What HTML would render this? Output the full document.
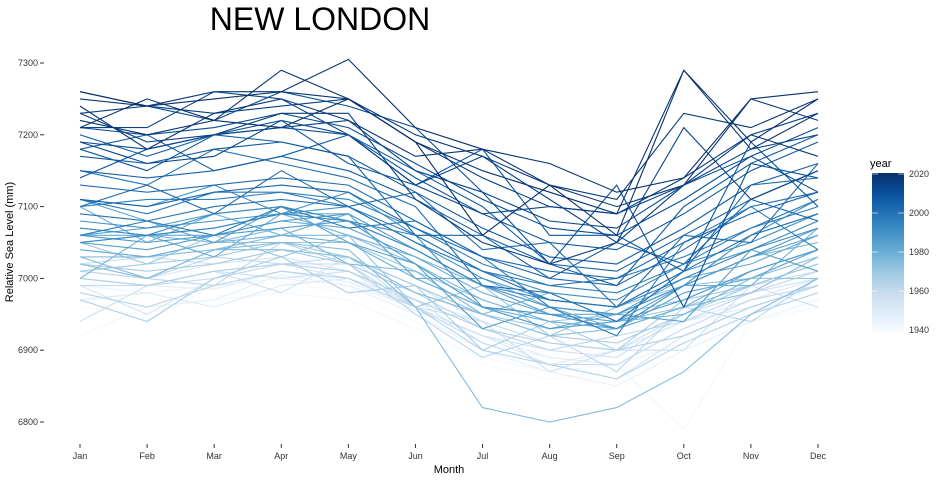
<!DOCTYPE html>
<html><head><meta charset="utf-8"><style>
body{margin:0;background:#fff;font-family:"Liberation Sans",sans-serif}
svg text{font-family:"Liberation Sans",sans-serif}
</style></head><body>
<svg id="chart" width="940" height="480">
<defs><linearGradient id="cb" x1="0" y1="1" x2="0" y2="0">
<stop offset="0" stop-color="#f7fbff"/><stop offset="0.125" stop-color="#deebf7"/><stop offset="0.25" stop-color="#c6dbef"/><stop offset="0.375" stop-color="#9ecae1"/><stop offset="0.5" stop-color="#6baed6"/><stop offset="0.625" stop-color="#4292c6"/><stop offset="0.75" stop-color="#2171b5"/><stop offset="0.875" stop-color="#08519c"/><stop offset="1" stop-color="#08306b"/></linearGradient></defs>
<text x="320" y="30" font-size="32" text-anchor="middle" fill="#000">NEW LONDON</text>
<g id="yaxis"></g>
<g id="xaxis"></g>
<g id="lines"></g>
<text transform="translate(13,242) rotate(-90)" font-size="11" text-anchor="middle">Relative Sea Level (mm)</text>
<text x="449" y="473" font-size="11" text-anchor="middle">Month</text>
<g>
<text x="870" y="167" font-size="11">year</text>
<rect x="872" y="173" width="32" height="159" fill="url(#cb)"/>
<g id="cbt"></g>
</g>
</svg>
<script>
const months=["Jan","Feb","Mar","Apr","May","Jun","Jul","Aug","Sep","Oct","Nov","Dec"];
const yTicks=[6800,6900,7000,7100,7200,7300];
const legendTicks=[1940,1960,1980,2000,2020];
const years=[1938,1940,1942,1944,1946,1948,1950,1952,1954,1956,1957,1958,1960,1962,1963,1964,1966,1967,1968,1970,1971,1972,1974,1975,1976,1977,1978,1979,1980,1981,1982,1984,1985,1986,1988,1990,1991,1992,1994,1996,1997,1998,2000,2001,2002,2003,2004,2005,2006,2007,2008,2009,2010,2011,2012,2013,2014,2015,2016,2017,2018,2019,2020,2021,2022];
const values=[
[6960,6950,6975,6985,6990,6950,6900,6880,6890,6930,6960,6970],
[6970,6940,6990,6995,6980,6940,6880,6860,6870,6920,6950,6980],
[6920,6960,6970,6980,6970,6930,6890,6870,6880,6790,6940,6960],
[6990,6980,6990,7000,6990,6960,6910,6890,6880,6910,6950,6990],
[6980,6960,6970,7005,6990,6950,6900,6870,6850,6900,6940,6970],
[7000,6990,6985,7010,6995,6960,6920,6890,6880,6930,6970,6990],
[6970,6980,6960,6990,7000,6955,6920,6880,6900,6940,6960,6990],
[7010,7000,7020,7030,7010,6970,6940,6910,6900,6940,6970,7000],
[6990,6950,7000,7020,7000,6970,6910,6880,6860,6920,6960,6990],
[7000,6990,7010,7000,7010,6960,6920,6900,6890,6950,6980,7000],
[6940,6990,7010,6980,7030,6960,6940,6870,6900,6900,6990,6960],
[7020,7030,7020,7040,7030,6990,6940,6910,6900,6950,6990,7010],
[6990,6990,7000,7020,7020,6960,6910,6880,6880,6930,6970,6990],
[7010,7000,7030,7020,7030,6980,6930,6900,6920,6940,6980,7010],
[7020,7000,6990,7050,7020,6950,6890,6920,6870,6960,6940,7000],
[6980,6960,6990,7010,7000,6960,6900,6880,6860,6910,6950,6980],
[7000,6990,7010,7020,7010,6970,6930,6910,6900,6920,6960,6990],
[6970,6940,7000,7030,6980,6990,6900,6940,6900,6970,6990,7020],
[7020,7010,7020,7040,7020,6980,6950,6920,6910,6950,6990,7020],
[7010,7020,7030,7050,7030,6990,6950,6930,6940,6960,6990,7020],
[7050,7020,7060,7030,7060,6960,6990,6920,6960,6990,7000,7000],
[7040,7030,7050,7050,7050,7010,6970,6940,6950,6970,7010,7040],
[7020,7000,7040,7040,7030,6980,6950,6920,6930,6960,6980,7030],
[7030,7000,7040,7050,7040,6960,6820,6800,6820,6870,6950,7000],
[7030,7030,7040,7060,7060,7020,6970,6940,6930,6980,7000,7030],
[7000,7060,7050,7070,7020,7010,6950,6980,6940,6950,7000,7040],
[7070,7060,7070,7090,7060,7030,6990,6960,6950,6990,7030,7050],
[7100,7050,7090,7060,7090,7000,6960,6930,6950,6990,6990,7070],
[7040,7030,7050,7060,7050,7000,6960,6940,6930,6960,7010,7040],
[7060,7060,7030,7090,7090,7000,7000,6960,6930,6980,7000,7040],
[7050,7060,7060,7080,7070,7030,6980,6950,6950,7000,7020,7060],
[7060,7070,7090,7100,7080,7040,6990,6950,6940,6990,7030,7060],
[7110,7080,7050,7100,7050,7020,6930,6960,6950,6940,7040,7010],
[7050,7040,7060,7070,7080,7020,6960,6930,6940,6970,7010,7040],
[7060,7050,7060,7080,7090,7040,6990,6960,6950,6990,7030,7070],
[7080,7070,7080,7090,7100,7050,7000,6970,6960,7010,7040,7070],
[7110,7100,7130,7090,7120,7060,6960,6950,6930,6990,7060,7110],
[7070,7060,7090,7100,7080,7060,7010,6980,6970,7020,7050,7090],
[7050,7060,7070,7090,7080,7040,6990,6970,6960,7000,7040,7080],
[7100,7110,7110,7120,7110,7070,7020,6990,6980,7020,7070,7100],
[7060,7080,7060,7100,7070,7080,7030,6960,6920,7050,7100,7040],
[7110,7090,7120,7120,7100,7060,7010,6990,7000,7030,7070,7110],
[7090,7080,7100,7110,7100,7050,7010,6970,6960,7010,7060,7090],
[7150,7130,7180,7160,7140,7100,6990,6980,6940,7010,7130,7140],
[7130,7120,7130,7140,7130,7080,7030,7000,6990,7040,7100,7120],
[7100,7130,7090,7150,7100,7120,7040,7050,6960,7060,7050,7160],
[7110,7100,7120,7130,7120,7070,7030,7010,7000,7050,7090,7120],
[7200,7170,7200,7190,7170,7060,7060,7000,7050,7020,7110,7080],
[7150,7140,7150,7170,7150,7110,7060,7020,7010,7060,7110,7150],
[7180,7200,7150,7170,7200,7150,7100,7020,6990,7100,7160,7200],
[7170,7160,7180,7190,7170,7120,7070,7030,7020,7070,7130,7160],
[7140,7180,7200,7220,7160,7130,7180,7060,7060,7010,7190,7100],
[7180,7150,7200,7210,7200,7140,7090,7050,7040,7090,7150,7190],
[7260,7240,7220,7260,7240,7210,7120,7020,7130,6960,7160,7140],
[7210,7200,7210,7230,7210,7160,7110,7070,7060,7110,7170,7210],
[7190,7160,7170,7220,7200,7130,7090,7100,7090,7130,7170,7120],
[7190,7180,7200,7210,7220,7150,7120,7080,7070,7130,7180,7200],
[7210,7210,7260,7250,7200,7130,7170,7110,7050,7210,7110,7150],
[7230,7240,7230,7240,7250,7190,7140,7100,7090,7140,7200,7230],
[7230,7190,7200,7230,7230,7110,7050,7020,7050,7130,7200,7170],
[7250,7240,7260,7260,7250,7200,7170,7130,7110,7230,7210,7250],
[7240,7180,7230,7250,7220,7170,7180,7130,7100,7130,7250,7220],
[7220,7200,7220,7290,7250,7190,7150,7120,7090,7290,7180,7230],
[7210,7250,7220,7210,7250,7190,7060,7130,7060,7290,7190,7250],
[7260,7240,7250,7260,7305,7210,7180,7160,7120,7140,7250,7260]
];
const NS="http://www.w3.org/2000/svg";
const x=i=>80+i*(818-80)/11;
const y=v=>63+(7300-v)*(422-63)/500;
const ly=yr=>174+(2020-yr)*(330-174)/80;
const stops=["#f7fbff","#deebf7","#c6dbef","#9ecae1","#6baed6","#4292c6","#2171b5","#08519c","#08306b"];
function hex(h){return [1,3,5].map(k=>parseInt(h.substr(k,2),16));}
function color(yr){let t=(yr-1939.5)/(2021-1939.5);t=Math.max(0,Math.min(1,t));const p=t*8,i=Math.min(7,Math.floor(p)),f=p-i;const a=hex(stops[i]),b=hex(stops[i+1]);return "rgb("+a.map((c,k)=>Math.round(c+(b[k]-c)*f)).join(",")+")";}
function mk(t,at,parent){const e=document.createElementNS(NS,t);for(const k in at)e.setAttribute(k,at[k]);parent.appendChild(e);return e;}
const ya=document.getElementById("yaxis");
yTicks.forEach(v=>{
  const t=mk("text",{x:38,y:y(v)+3,"font-size":9,"text-anchor":"end",fill:"#333"},ya);t.textContent=v;
  
  
  mk("line",{x1:40,x2:44,y1:y(v),y2:y(v),stroke:"#333","stroke-width":1},ya);
});
const xa=document.getElementById("xaxis");
months.forEach((m,i)=>{
  mk("line",{x1:x(i),x2:x(i),y1:444,y2:448,stroke:"#333","stroke-width":1},xa);
  const t=mk("text",{x:x(i),y:459,"font-size":9,"text-anchor":"middle",fill:"#333"},xa);t.textContent=m;
  
  
});
const lg=document.getElementById("lines");
years.forEach((yr,j)=>{
  const d=values[j].map((v,i)=>(i?"L":"M")+x(i).toFixed(1)+","+y(v).toFixed(1)).join("");
  const p=mk("path",{d:d,fill:"none",stroke:color(yr),"stroke-width":1.1},lg);
  
  
});
const cbt=document.getElementById("cbt");
legendTicks.forEach(yr=>{
  mk("line",{x1:872,x2:878,y1:ly(yr),y2:ly(yr),stroke:"#fff","stroke-opacity":0.6},cbt);
  mk("line",{x1:898,x2:904,y1:ly(yr),y2:ly(yr),stroke:"#fff","stroke-opacity":0.6},cbt);
  const t=mk("text",{x:909,y:ly(yr)+3,"font-size":9,fill:"#333"},cbt);t.textContent=yr;
  
  
});
</script>
</body></html>
